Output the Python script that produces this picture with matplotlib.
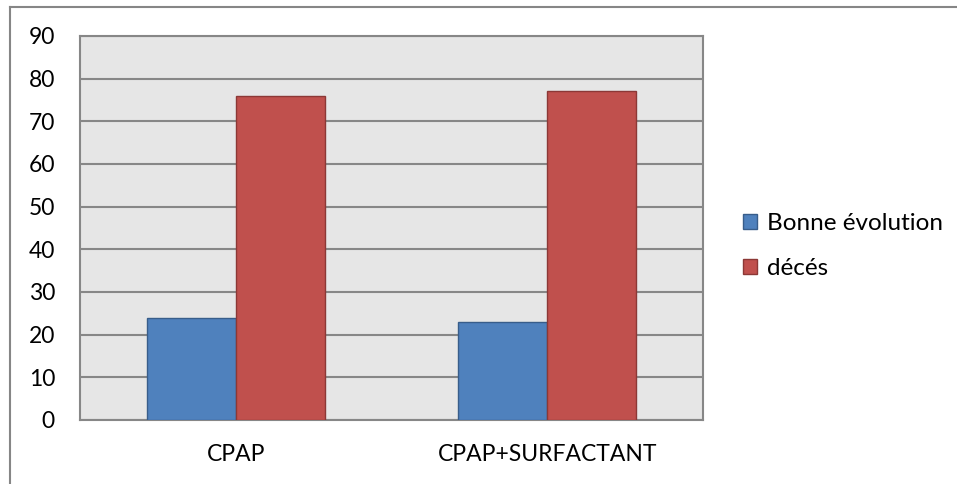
import matplotlib
matplotlib.use("Agg")
import matplotlib.pyplot as plt
import numpy as np
from matplotlib.patches import Patch

categories = ["CPAP", "CPAP+SURFACTANT"]
series_names = ["Bonne évolution", "décés"]
bonne = [24, 23]
deces = [76, 77]
yticks = [0, 10, 20, 30, 40, 50, 60, 70, 80, 90]

plt.rcParams['font.family'] = ['Lato', 'DejaVu Sans']

W, H = 957, 484
fig = plt.figure(figsize=(W/100, H/100), dpi=100)
fig.patch.set_facecolor('white')

# outer chart border (top & left visible)
fig.add_artist(plt.Line2D([10/W, 10/W], [0, 1 - 7/H], color='#868686', lw=1.5, transform=fig.transFigure))
fig.add_artist(plt.Line2D([10/W, 1], [1 - 7/H, 1 - 7/H], color='#868686', lw=1.5, transform=fig.transFigure))

ax = fig.add_axes([80/W, (H-420)/H, 623/W, 384/H])
ax.set_facecolor('#E6E6E6')

x = np.arange(len(categories))
w = 89/311.5
blue = '#4F81BD'
red = '#C0504D'
ax.bar(x - w/2, bonne, w, color=blue, edgecolor='#385D8A', linewidth=1, zorder=3)
ax.bar(x + w/2, deces, w, color=red, edgecolor='#8C3836', linewidth=1, zorder=3)

ax.set_xlim(-0.5, 1.5)
ax.set_ylim(0, 90)
ax.set_yticks(yticks)
ax.set_yticklabels([str(t) for t in yticks], fontsize=16.5)
ax.set_xticks(x)
ax.set_xticklabels(categories, fontsize=16.5)
ax.yaxis.grid(True, color='#878787', linewidth=1.5, zorder=1)
ax.set_axisbelow(True)
ax.tick_params(axis='both', length=0)
ax.tick_params(axis='y', pad=18)
ax.tick_params(axis='x', pad=17)
for s in ax.spines.values():
    s.set_color('#878787')
    s.set_linewidth(1.5)

handles = [Patch(facecolor=blue, edgecolor='#385D8A', label=series_names[0]),
           Patch(facecolor=red, edgecolor='#8C3836', label=series_names[1])]
fig.legend(handles=handles, loc='center left', bbox_to_anchor=(743/W, 1 - 246/H),
           frameon=False, fontsize=17.5, handlelength=0.58, handleheight=0.58,
           handletextpad=0.4, labelspacing=1.0, borderaxespad=0, borderpad=0)

fig.savefig('out.png', dpi=100, facecolor='white')
